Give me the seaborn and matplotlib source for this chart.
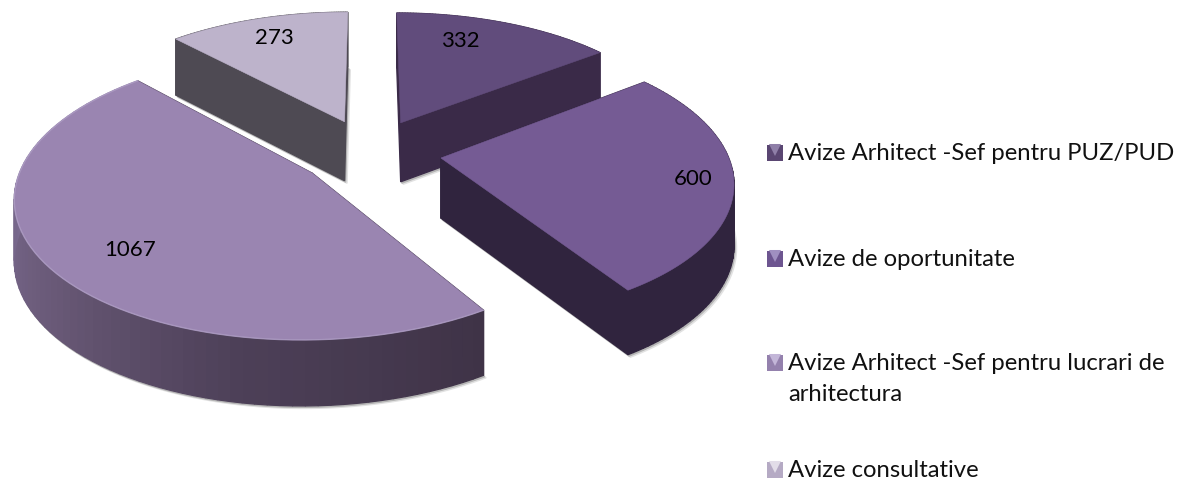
import numpy as np
import matplotlib
matplotlib.use("Agg")
import matplotlib.pyplot as plt
import seaborn as sns

# valeurs du graphique
categories = ["Avize Arhitect -Sef pentru PUZ/PUD", "Avize de oportunitate",
              "Avize Arhitect -Sef pentru lucrari de\narhitectura", "Avize consultative"]
values = [332, 600, 1067, 273]

# couleurs
top_colors = ["#614c7c", "#755b94", "#9a85b1", "#bdb3cb"]
wall_colors = ["#3a2a48", "#30243e", "#3f3347", "#4e4a53"]
swatch_light = ["#8f7fa8", "#a08fc0", "#c3b6d8", "#e2dde8"]
swatch_colors = ["#5a4672", "#6d5590", "#9481ad", "#b5aac4"]

# positions (pixels de l'image) et projection
cx, cy = 370, 152
rx, ry = 286, 134.6
persp = 0.151
explode = 0.25
depth = 60
label_r = [0.76, 0.865, 0.75, 0.79]
label_shift = [-7, 0, -4, 0]
legend_y = [153, 259, 363, 470]

sns.set_theme(style="white")
plt.rcParams['font.family'] = ['Lato', 'DejaVu Sans']

fig = plt.figure(figsize=(11.78, 4.79), dpi=100)
ax = fig.add_axes([0, 0, 1, 1])
ax.set_xlim(0, 1178)
ax.set_ylim(479, 0)
ax.axis('off')


# on projette un point du disque vers l'ecran, z = 1 pour le dessous
def project(x, y, z=0):
    w = 1 + persp * y
    return cx + rx * x / w, cy - ry * y / w + z * depth / np.sqrt(w)


def quad(p1, p2, color, zorder):
    xs = [project(*p1)[0], project(*p2)[0], project(*p2, 1)[0], project(*p1, 1)[0]]
    ys = [project(*p1)[1], project(*p2)[1], project(*p2, 1)[1], project(*p1, 1)[1]]
    ax.fill(xs, ys, color=color, lw=0.9, zorder=zorder)


angles = np.cumsum([0] + values) / sum(values) * 2 * np.pi
side_gradient = sns.blend_palette(["#3f3347", "#4d4058", "#6a5a78", "#7a6a90", "#8b7aa3"], 80)

# ombre legere sous les parts
for i in range(4):
    t = np.linspace(angles[i], angles[i + 1], 120)
    mid = (angles[i] + angles[i + 1]) / 2
    ox, oy = explode * np.sin(mid), explode * np.cos(mid)
    xs = np.r_[ox, ox + np.sin(t)]
    ys = np.r_[oy, oy + np.cos(t)]
    px, py = project(xs, ys, 1)
    ax.fill(px + 2.5, py + 2.5, color="#e2e2e2", lw=1, zorder=1)
    ax.fill(px + 1.2, py + 1.5, color="#b4b4b4", lw=0.8, zorder=1)

# de l'arriere vers l'avant
for order, i in enumerate([3, 0, 1, 2]):
    base = 2 + order * 4
    mid = (angles[i] + angles[i + 1]) / 2
    ox, oy = explode * np.sin(mid), explode * np.cos(mid)
    t = np.linspace(angles[i], angles[i + 1], 81)
    xs = ox + np.sin(t)
    ys = oy + np.cos(t)

    # faces radiales
    quad((ox, oy), (xs[0], ys[0]), wall_colors[i], base)
    quad((ox, oy), (xs[-1], ys[-1]), wall_colors[i], base)

    # face exterieure
    for k in range(80):
        if i == 2:
            c = side_gradient[k]
        else:
            c = wall_colors[i]
        quad((xs[k], ys[k]), (xs[k + 1], ys[k + 1]), c, base + 1)

    # dessus
    px, py = project(np.r_[ox, xs], np.r_[oy, ys])
    ax.fill(px, py, color=top_colors[i], lw=0.4, zorder=base + 2)
    if i == 2:
        ax.plot(px[1:], py[1:], color="#b3a3c9", lw=1, alpha=0.7, zorder=base + 2)

    # etiquette de valeur
    a = mid + np.radians(label_shift[i])
    lx, ly = project(ox + label_r[i] * np.sin(a), oy + label_r[i] * np.cos(a))
    ax.text(lx, ly, str(values[i]), fontsize=16, color="black", ha='center', va='center', zorder=30)

# legende
swatch_x = [775] * 4
sns.scatterplot(x=swatch_x, y=legend_y, hue=categories, palette=swatch_colors, marker='s', s=128,
                linewidth=0, legend=False, ax=ax, zorder=30)
sns.scatterplot(x=swatch_x, y=[y - 3 for y in legend_y], hue=categories, palette=swatch_light, marker='v', s=75,
                linewidth=0, legend=False, ax=ax, zorder=31)
ax.set_xlim(0, 1178)
ax.set_ylim(479, 0)
for name, y in zip(categories, legend_y):
    ax.text(788, y - 10, name, fontsize=17.2, color="#111111", ha='left', va='top', linespacing=1.56, zorder=30)

fig.savefig("out.png", dpi=100, facecolor="white")
